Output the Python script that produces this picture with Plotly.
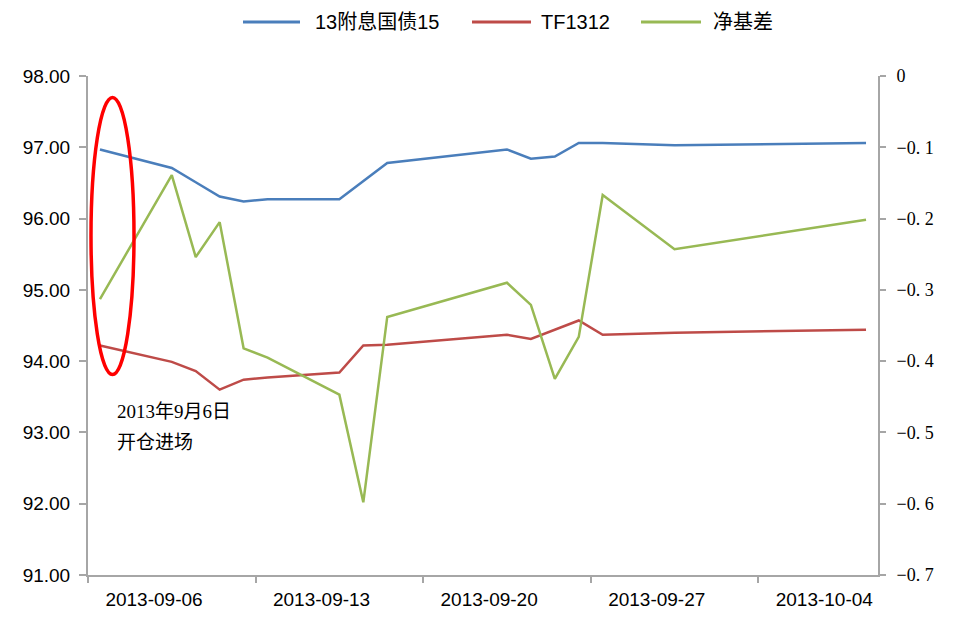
import plotly.graph_objects as go

dates = ["2013-09-06", "2013-09-09", "2013-09-10", "2013-09-11", "2013-09-12",
         "2013-09-13", "2013-09-16", "2013-09-17", "2013-09-18", "2013-09-23",
         "2013-09-24", "2013-09-25", "2013-09-26", "2013-09-27", "2013-09-30",
         "2013-10-08"]
bond_1315 = [96.97, 96.71, 96.51, 96.31, 96.24, 96.27, 96.27, 96.52, 96.78, 96.97,
             96.84, 96.87, 97.06, 97.06, 97.03, 97.06]
tf1312 = [94.22, 93.99, 93.86, 93.60, 93.74, 93.77, 93.84, 94.22, 94.23, 94.37,
          94.31, 94.44, 94.57, 94.37, 94.40, 94.44]
net_basis = [-0.313, -0.139, -0.254, -0.205, -0.382, -0.395, -0.447, -0.598, -0.338,
             -0.290, -0.321, -0.425, -0.366, -0.167, -0.243, -0.2015]

series_names = ["13附息国债15", "TF1312", "净基差"]
colors = ["#4A7EBB", "#BE4B48", "#98B954"]

x_tick_dates = ["2013-09-05 12:00", "2013-09-12 12:00", "2013-09-19 12:00",
                "2013-09-26 12:00", "2013-10-03 12:00"]
x_tick_labels = ["2013-09-06", "2013-09-13", "2013-09-20", "2013-09-27", "2013-10-04"]
left_ticks = [91, 92, 93, 94, 95, 96, 97, 98]
right_ticks = [0, -0.1, -0.2, -0.3, -0.4, -0.5, -0.6, -0.7]
right_labels = ["0", "−0. 1", "−0. 2", "−0. 3", "−0. 4", "−0. 5", "−0. 6", "−0. 7"]

fig = go.Figure()
fig.add_trace(go.Scatter(x=dates, y=bond_1315, name=series_names[0], mode="lines",
                         line=dict(color=colors[0], width=2.5), yaxis="y"))
fig.add_trace(go.Scatter(x=dates, y=tf1312, name=series_names[1], mode="lines",
                         line=dict(color=colors[1], width=2.5), yaxis="y"))
fig.add_trace(go.Scatter(x=dates, y=net_basis, name=series_names[2], mode="lines",
                         line=dict(color=colors[2], width=2.5), yaxis="y2"))

axis_color = "#A6A6A6"
OFF = 8  # page body margin
W, H = 954 - OFF, 621 - OFF
# plot area in page pixels: x 88..878, y 76..575
L = 88 - OFF
T = 76 - OFF
R = W - (878 - OFF)
B = H - (575 - OFF)
pw, ph = W - L - R, H - T - B

def px_x(x):
    return (x - OFF - L) / pw

def px_y(y):
    return (H - B - (y - OFF)) / ph

shapes = []
annotations = []
# custom legend
legend_items = [(243, 300, 313), (472, 531, 539), (641, 701, 711)]
for (x0, x1, tx), name, col in zip(legend_items, series_names, colors):
    shapes.append(dict(type="line", xref="paper", yref="paper",
                       x0=px_x(x0), x1=px_x(x1), y0=px_y(22), y1=px_y(22),
                       line=dict(color=col, width=3)))
    annotations.append(dict(xref="paper", yref="paper", x=px_x(tx), y=px_y(22),
                            xanchor="left", yanchor="middle", showarrow=False,
                            text=name,
                            font=dict(family="Liberation Sans, Noto Sans CJK SC",
                                      size=20, color="#000000")))

# red ellipse highlight
shapes.append(dict(type="circle", xref="paper", yref="paper",
                   x0=px_x(91), x1=px_x(134), y0=px_y(374.5), y1=px_y(97.5),
                   line=dict(color="#FF0000", width=3.5)))

annotations.append(dict(xref="paper", yref="paper", x=px_x(115), y=px_y(411.5),
                        xanchor="left", yanchor="middle", showarrow=False,
                        text="2013年9月6日",
                        font=dict(family="Liberation Serif, Noto Sans CJK SC",
                                  size=19, color="#000000")))
annotations.append(dict(xref="paper", yref="paper", x=px_x(115), y=px_y(442),
                        xanchor="left", yanchor="middle", showarrow=False,
                        text="开仓进场",
                        font=dict(family="Liberation Serif, Noto Sans CJK SC",
                                  size=19, color="#000000")))

fig.update_layout(
    width=W, height=H,
    margin=dict(l=L, r=R, t=T, b=B, pad=0),
    paper_bgcolor="white", plot_bgcolor="white",
    showlegend=False,
    shapes=shapes, annotations=annotations,
    xaxis=dict(type="date", range=["2013-09-05 12:00", "2013-10-08 12:00"],
               showgrid=False, zeroline=False,
               showline=True, linecolor=axis_color, linewidth=2,
               tickmode="array", tickvals=x_tick_dates, ticktext=x_tick_labels,
               ticks="outside", ticklen=6, tickwidth=2, tickcolor=axis_color,
               ticklabelshift=66,
               tickfont=dict(family="Liberation Sans", size=19, color="#000000")),
    yaxis=dict(range=[91, 98], showgrid=False, zeroline=False,
               showline=True, linecolor=axis_color, linewidth=2,
               tickmode="array", tickvals=left_ticks, tickformat=".2f",
               ticks="outside", ticklen=7, tickwidth=2, tickcolor=axis_color,
               ticklabelstandoff=5,
               tickfont=dict(family="Liberation Sans", size=19, color="#000000")),
    yaxis2=dict(range=[-0.7, 0], overlaying="y", side="right",
                showgrid=False, zeroline=False,
                showline=True, linecolor=axis_color, linewidth=2,
                tickmode="array", tickvals=right_ticks, ticktext=right_labels,
                ticks="outside", ticklen=6, tickwidth=2, tickcolor=axis_color,
                ticklabelstandoff=7,
                tickfont=dict(family="Liberation Serif", size=18, color="#000000")),
)

fig.write_html("out.html")
